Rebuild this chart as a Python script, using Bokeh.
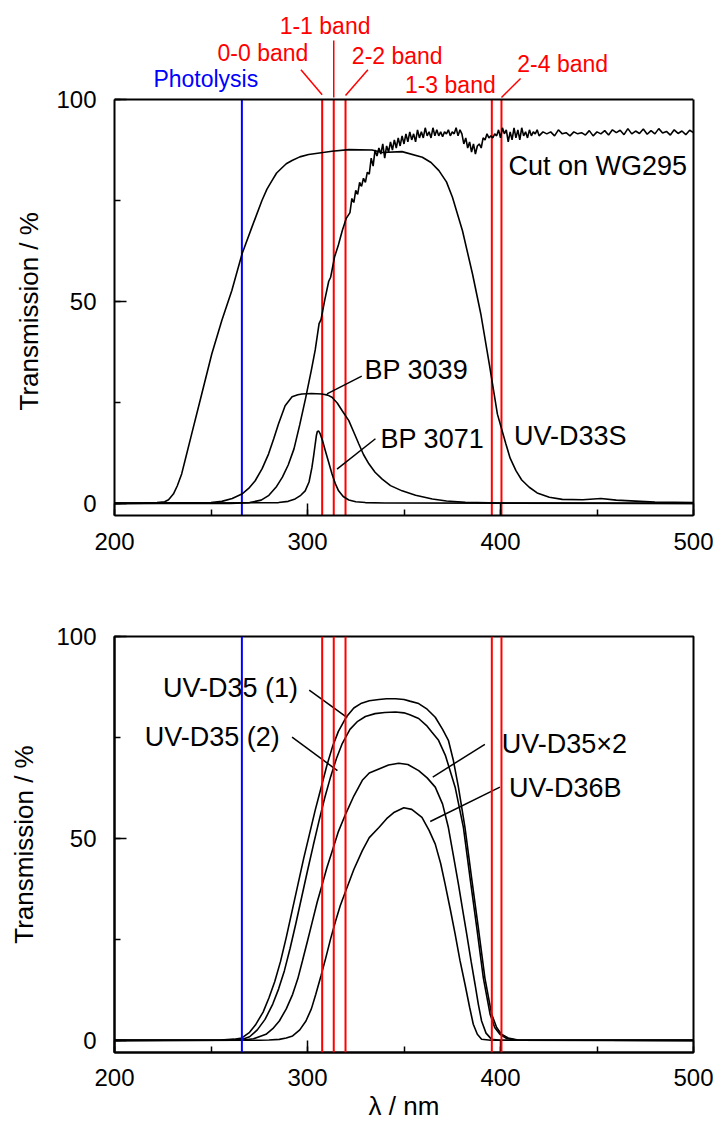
from bokeh.plotting import figure
from bokeh.models import Range1d, SingleIntervalTicker, FixedTicker, Span, LinearAxis, Title
from bokeh.layouts import column
from bokeh.core.properties import value
from bokeh.embed import file_html
from bokeh.resources import INLINE

FONT = "Liberation Sans"

# ---------------- data ----------------
photolysis_nm = 266.0
band_nm = [307.6, 313.6, 319.7, 395.5, 400.5]
band_names = ["0-0 band", "1-1 band", "2-2 band", "1-3 band", "2-4 band"]

x_ticks_major = 100
y_ticks_major = 50

# top panel
d33s_wl = [200, 215, 222, 226, 228, 230.5, 232.5, 234.8, 237, 240, 245.2, 250.4, 255.6, 260.8, 266.1,
           271.2, 276.4, 279, 281.6, 284, 286.8, 289, 292, 296, 300.6, 312.7, 321.4, 333.5, 338.7, 349,
           359.5, 364, 368.1, 372, 375.1, 380.3, 385.5, 389.8, 394.2, 398.4, 402.8, 405, 408, 411, 414.9,
           419, 425.3, 432, 442.6, 452, 460, 480, 500]
d33s_T = [0, 0.1, 0.2, 0.4, 0.9, 2.3, 4.3, 7.3, 11.5, 17.2, 27.1, 37.0, 45.3, 52.7, 61.8,
          68.4, 75.0, 77.8, 79.9, 81.8, 83.1, 84.1, 84.9, 85.8, 86.4, 87.2, 87.6, 87.5, 86.9, 87.1,
          85.7, 84.4, 82.4, 79.6, 75.8, 67.5, 56.8, 46.9, 34.5, 22.1, 14.7, 11.2, 8.1, 5.8, 4.0,
          2.6, 1.5, 1.0, 0.9, 1.2, 0.8, 0.3, 0.2]

wg295_wl = [200, 260, 270, 276, 280, 284, 287, 290, 293, 296, 299, 302, 304, 306, 307, 309, 311, 312,
            314, 316, 318, 320, 322, 323, 324, 325, 326, 327, 328, 329, 330, 331, 332, 333, 334, 335,
            336, 337, 338, 339, 340, 341, 342, 343, 344, 345, 346, 347, 348, 349, 350, 351, 352, 353,
            354, 355, 356, 357, 358, 359, 360, 361, 362, 363, 364, 365, 366, 367, 368, 369, 370, 371,
            372, 373, 374, 375, 376, 377, 378, 379, 380, 381, 382, 383, 384, 385, 386, 387, 388, 389,
            390, 391, 392, 393, 394, 395, 396, 397, 398, 399, 400, 401, 402, 403, 404, 405, 406, 407,
            408, 409, 410, 411, 412, 413, 414, 415, 416, 417, 418, 419, 420, 422, 424, 426, 428, 430,
            432, 434, 436, 438, 440, 442, 444, 446, 448, 450, 452, 454, 456, 458, 460, 462, 464, 466,
            468, 470, 472, 474, 476, 478, 480, 482, 484, 486, 488, 490, 492, 494, 496, 498, 500]
wg295_T = [0, 0, 0.2, 0.8, 2.0, 4.2, 6.5, 9.5, 13.5, 19.5, 26.0, 33.0, 38.0, 44.5, 45.5, 50.5, 55.0, 56.0,
           61.0, 64.0, 67.5, 70.5, 72.0, 75.5, 74.5, 77.5, 76.5, 79.5, 78.5, 80.5, 79.5, 82.0, 81.5, 85.5, 83.5, 87.5,
           86.0, 88.0, 86.5, 89.0, 85.5, 88.5, 87.0, 89.5, 87.5, 90.0, 88.0, 90.5, 88.5, 91.0, 89.0, 91.5, 89.5, 92.0,
           90.0, 91.5, 89.5, 92.5, 90.5, 92.0, 90.5, 93.0, 91.0, 92.0, 90.5, 93.0, 91.0, 92.5, 91.0, 92.0, 90.8, 92.0,
           91.5, 92.5, 91.0, 92.0, 91.5, 93.0, 91.0, 92.5, 91.5, 89.0, 90.5, 88.0, 89.5, 87.0, 89.0, 86.5, 88.5, 89.0,
           88.0, 90.5, 90.0, 91.5, 90.5, 91.0, 90.5, 91.5, 91.0, 92.5, 90.5, 93.0, 91.5, 92.5, 89.5, 92.0, 90.0, 93.0,
           90.5, 92.5, 90.0, 93.0, 91.0, 92.0, 90.5, 92.5, 91.0, 92.0, 91.5, 92.5, 91.0, 92.0, 91.5, 92.0, 91.0, 92.5,
           91.5, 91.8, 91.0, 92.0, 91.5, 91.8, 91.2, 92.3, 91.0, 92.0, 91.5, 92.3, 91.2, 92.5, 91.8, 92.4, 91.3, 92.8,
           91.5, 92.2, 91.6, 92.7, 91.4, 92.3, 91.5, 92.8, 91.7, 92.1, 91.2, 92.5, 91.6, 92.2, 91.3, 92.4, 91.8]

bp3039_wl = [200, 250, 255.6, 261, 266, 269.5, 272.9, 276.5, 279.8, 282.5, 285, 288.4, 292, 295, 297.1, 302,
             307.5, 310.5, 312.7, 315.5, 317.9, 321.4, 324, 326.6, 329, 331.8, 335, 338.7, 343, 349, 356, 364.7,
             372, 381.8, 400, 500]
bp3039_T = [0, 0.2, 0.5, 1.2, 2.3, 3.7, 5.6, 8.6, 12.2, 16.0, 19.7, 24.2, 26.4, 26.9, 27.1, 27.2,
            27.1, 26.8, 26.3, 24.8, 23.0, 20.5, 17.6, 14.7, 12.1, 9.8, 7.7, 6.0, 4.4, 3.1, 2.0, 1.1,
            0.6, 0.25, 0.1, 0]

bp3071_wl = [200, 285, 290, 293.6, 296.5, 298.8, 300.8, 302.3, 303.2, 304, 304.6, 305.1, 305.8, 306.6, 307.8,
             309.2, 311, 312.7, 314.4, 316.1, 318.5, 321.4, 325, 330, 340, 500]
bp3071_T = [0, 0.2, 0.5, 1.1, 2.0, 3.1, 5.3, 8.9, 11.8, 14.7, 16.8, 17.8, 17.9, 17.2, 15.5,
            13.1, 10.1, 7.3, 4.9, 3.1, 1.7, 0.85, 0.4, 0.2, 0.1, 0]

# bottom panel
d35a_wl = [200, 255, 262, 266, 270, 273, 277, 280, 283, 286, 289, 292, 295, 298, 301, 304, 307, 310, 313,
           316, 320, 324, 328, 332, 337, 341, 345.6, 350, 353, 357.6, 362, 366.2, 370,
           373, 375.5, 378.2, 381.6, 385, 388.5, 391.9, 395.4, 398, 400.5, 404, 409.1, 500]
d35a_T = [0, 0.1, 0.3, 0.6, 2.0, 3.8, 7.0, 10.5, 14.5, 19.5, 25.5, 32.0, 38.5, 45.0, 51.0, 57.0, 62.5, 68.0, 72.8,
          76.5, 80.0, 82.3, 83.5, 84.1, 84.4, 84.6, 84.6, 84.4, 84.0, 83.4, 82.0, 80.0, 77.0,
          74.3, 69.5, 62.7, 52.7, 40.3, 27.9, 15.5, 6.5, 3.2, 1.5, 0.6, 0.1, 0]

d35b_wl = [200, 258, 266, 270, 274, 278, 282, 285, 288, 291, 294, 297, 300, 303, 306, 309, 312, 315, 318,
           322, 326, 330, 335, 340, 345.6, 350, 353, 357.6, 362, 364.5, 367.9, 371.5,
           376.5, 380.8, 384.2, 387.7, 391.1, 394.6, 397, 399.7, 403, 408, 500]
d35b_T = [0, 0.05, 0.2, 0.9, 2.6, 5.2, 9.0, 12.7, 17.2, 22.8, 29.0, 35.5, 42.0, 48.3, 54.4, 60.2, 65.3, 69.8, 73.5,
          77.0, 79.0, 80.2, 80.9, 81.2, 81.3, 81.1, 80.6, 79.7, 77.8, 76.3, 74.3, 70.5,
          62.7, 52.7, 40.3, 27.9, 15.5, 6.5, 3.2, 1.5, 0.5, 0.1, 0]

d35x2_wl = [200, 266, 272, 278.5, 282, 285.4, 289, 292.3, 295, 297.4, 300, 302.6, 305, 307.7, 310, 312.9, 316,
            319.8, 324, 328.4, 332, 337, 342, 347.3, 352, 357.6, 362, 366.2, 370, 373, 375.5, 378.2, 380.5,
            382.5, 384.8, 386.8, 388.5, 390.2, 392.5, 395.4, 400, 500]
d35x2_T = [0, 0.05, 0.4, 1.5, 2.9, 4.8, 7.8, 11.4, 15.3, 19.7, 24.6, 29.6, 34.2, 38.7, 42.7, 47.0, 51.7,
           56.1, 60.5, 64.4, 66.2, 67.2, 68.2, 68.6, 68.3, 66.8, 65.0, 62.7, 58.5, 52.7, 46.0, 38.7, 32.0,
           26.3, 19.5, 13.9, 9.0, 4.8, 1.8, 0.25, 0.05, 0]

d36b_wl = [200, 275, 280, 285.4, 289, 292.3, 296, 299.2, 302, 304.3, 307, 309.5, 312, 314.6, 317, 319.8, 324,
           328.4, 332, 337, 341, 345, 349.9, 354, 359.3, 363, 366.2, 369, 371.3, 374, 376.5, 379, 381.6, 384,
           385.9, 388, 390.2, 395, 500]
d36b_T = [0, 0.02, 0.08, 0.25, 0.6, 1.1, 2.6, 4.8, 7.8, 11.4, 16.0, 20.5, 25.2, 29.6, 33.4, 37.0, 42.3,
          47.0, 50.2, 52.7, 54.9, 56.5, 57.6, 57.2, 55.2, 52.0, 48.6, 43.8, 38.7, 32.4, 26.3, 19.8, 13.9, 8.2,
          4.0, 1.5, 0.3, 0.05, 0]

# ---------------- styling ----------------
RED = "#ff0000"
BLUE = "#0000ff"
W = 715
LEFT = 114
RIGHT = 22
T_MIN, T_MAX = -3, 100


def style_axis(ax, ticker):
    ax.ticker = ticker
    ax.axis_line_color = "black"
    ax.axis_line_width = 2
    ax.major_tick_in = 12
    ax.major_tick_out = 0
    ax.minor_tick_in = 6
    ax.minor_tick_out = 0
    ax.major_tick_line_width = 1.5
    ax.minor_tick_line_width = 1.5
    ax.major_tick_line_color = "black"
    ax.minor_tick_line_color = "black"
    ax.major_label_text_font = FONT
    ax.major_label_text_font_size = "24px"
    ax.major_label_text_color = "black"
    ax.axis_label_text_font = FONT
    ax.axis_label_text_font_size = "26px"
    ax.axis_label_text_font_style = "normal"
    ax.axis_label_text_color = "black"


def txt(p, x, y, s, size, color="black"):
    p.text(x=[x], y=[y], text=[s], text_font=value(FONT), text_font_size=size, text_color=color,
           text_align="center", text_baseline="middle")


# ---------------- top panel (with band labels above the frame box) ----------------
top = figure(width=W, height=569, x_range=Range1d(200, 500), y_range=Range1d(T_MIN, 124.52),
             toolbar_location=None, output_backend="svg",
             min_border_left=LEFT, min_border_right=RIGHT, min_border_top=0, min_border_bottom=54)
top.xgrid.visible = False
top.ygrid.visible = False
top.outline_line_color = None
style_axis(top.xaxis[0], SingleIntervalTicker(interval=x_ticks_major, num_minor_ticks=2))
style_axis(top.yaxis[0], SingleIntervalTicker(interval=y_ticks_major, num_minor_ticks=2))
top.yaxis.bounds = (T_MIN, T_MAX)
top.xaxis.major_label_standoff = 17
top.yaxis.major_label_standoff = 18
right_ax = LinearAxis(bounds=(T_MIN, T_MAX), ticker=FixedTicker(ticks=[]), axis_line_width=2,
                      axis_line_color="black", major_tick_in=0, major_tick_out=0,
                      minor_tick_in=0, minor_tick_out=0)
top.add_layout(right_ax, "right")
top.add_layout(Span(location=T_MAX, dimension="width", line_color="black", line_width=2))
# y-axis title, placed along the lower (boxed) part of the panel
top.add_layout(Title(text="Transmission / %", align="left", offset=105, standoff=19,
                     text_font=FONT, text_font_size="26px", text_font_style="normal",
                     text_color="black"), "left")

top.segment(x0=[photolysis_nm], y0=[T_MIN], x1=[photolysis_nm], y1=[T_MAX], line_color=BLUE, line_width=2)
top.segment(x0=band_nm, y0=[T_MIN] * 5, x1=band_nm, y1=[T_MAX] * 5, line_color=RED, line_width=2)

label_x = [247.3, 276.9, 309.1, 346.5, 374.0, 432.2]
label_y = [105.0, 111.6, 118.3, 110.9, 103.7, 108.7]
label_txt = ["Photolysis"] + band_names
label_col = [BLUE, RED, RED, RED, RED, RED]
top.text(x=label_x, y=label_y, text=label_txt, text_color=label_col, text_font=value(FONT),
         text_font_size="23px", text_align="center", text_baseline="middle")
top.segment(x0=[296.6, band_nm[1], 331.3, 410.4], y0=[107.4, 114.6, 107.4, 105.2],
            x1=[band_nm[0], band_nm[1], band_nm[2], band_nm[4]], y1=[101.2, 100.5, 101.0, 100.5],
            line_color=RED, line_width=1.5)

for wl, T in ((d33s_wl, d33s_T), (wg295_wl, wg295_T), (bp3039_wl, bp3039_T), (bp3071_wl, bp3071_T)):
    top.line(wl, T, line_color="black", line_width=1.6)
txt(top, 450.4, 83.6, "Cut on WG295", "27px")
txt(top, 356.4, 33.1, "BP 3039", "27px")
txt(top, 364.7, 16.0, "BP 3071", "27px")
txt(top, 436.1, 16.8, "UV-D33S", "27px")
top.segment(x0=[328.1, 335.2], y0=[31.5, 16.0], x1=[310.1, 315.3], y1=[27.1, 8.5],
            line_color="black", line_width=1.5)

# ---------------- bottom panel ----------------
bot = figure(width=W, height=555, x_range=Range1d(200, 500), y_range=Range1d(T_MIN, T_MAX),
             toolbar_location=None, output_backend="svg",
             min_border_left=LEFT, min_border_right=RIGHT, min_border_top=67, min_border_bottom=72)
bot.xgrid.visible = False
bot.ygrid.visible = False
bot.outline_line_color = "black"
bot.outline_line_width = 2
style_axis(bot.xaxis[0], SingleIntervalTicker(interval=x_ticks_major, num_minor_ticks=2))
style_axis(bot.yaxis[0], SingleIntervalTicker(interval=y_ticks_major, num_minor_ticks=2))
bot.xaxis.major_label_standoff = 16
bot.yaxis.major_label_standoff = 18
bot.yaxis.axis_label = "Transmission / %"
bot.yaxis.axis_label_standoff = 14
bot.xaxis.axis_label = "λ / nm"
bot.xaxis.axis_label_standoff = 2

bot.add_layout(Span(location=photolysis_nm, dimension="height", line_color=BLUE, line_width=2))
for b in band_nm:
    bot.add_layout(Span(location=b, dimension="height", line_color=RED, line_width=2))

for wl, T in ((d35a_wl, d35a_T), (d35b_wl, d35b_T), (d35x2_wl, d35x2_T), (d36b_wl, d36b_T)):
    bot.line(wl, T, line_color="black", line_width=1.6)
txt(bot, 260.1, 87.2, "UV-D35 (1)", "27px")
txt(bot, 250.6, 75.0, "UV-D35 (2)", "27px")
txt(bot, 433.1, 73.5, "UV-D35×2", "27px")
txt(bot, 433.6, 62.5, "UV-D36B", "27px")
bot.segment(x0=[300.9, 292.0, 391.9, 399.7], y0=[86.7, 75.1, 73.3, 62.7],
            x1=[320.6, 315.5, 364.9, 363.6], y1=[79.9, 66.8, 65.2, 54.2],
            line_color="black", line_width=1.5)

layout = column(top, bot, spacing=0)
open("out.html", "w").write(file_html(layout, INLINE))
